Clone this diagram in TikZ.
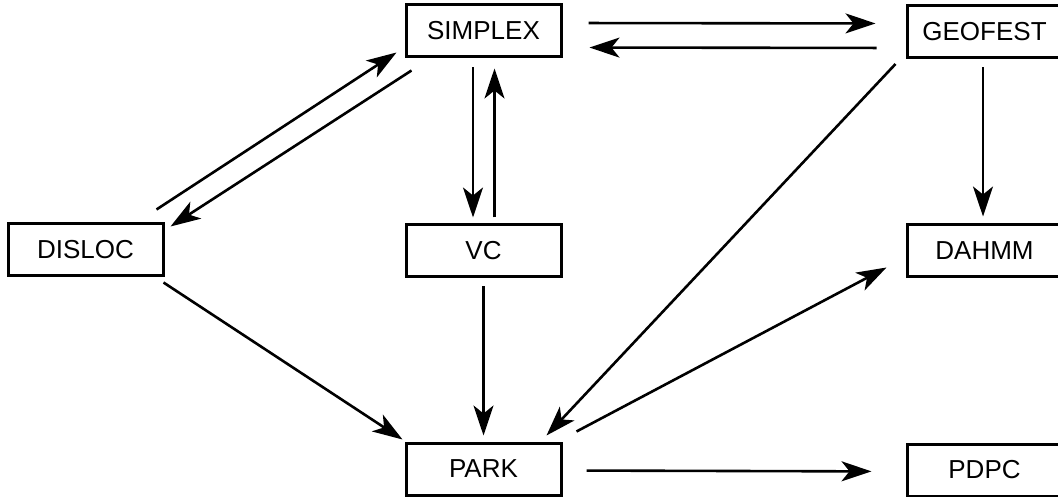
\documentclass[tikz,border=0pt]{standalone}
\usepackage{fontspec}
\setmainfont{Liberation Sans}
\usetikzlibrary{arrows.meta}
\begin{document}
\begin{tikzpicture}[x=1pt,y=-1pt,
  box/.style={draw, line width=3pt, minimum width=155pt, minimum height=52pt,
    inner sep=0pt, font=\fontsize{26pt}{30pt}\selectfont},
  conn/.style={line width=2.6pt, -{Stealth[length=30pt,width=20pt,inset=8pt]}}]
\useasboundingbox (0,0) rectangle (1058,497);
\node[box] (simplex) at (483.5,31) {SIMPLEX};
\node[box] (geofest) at (984.5,31.5) {GEOFEST};
\node[box] (disloc) at (85.5,250) {DISLOC};
\node[box] (vc) at (483.5,250.5) {VC};
\node[box] (dahmm) at (984.5,250.5) {DAHMM};
\node[box] (park) at (483.5,469) {PARK};
\node[box] (pdpc) at (984.5,470) {PDPC};
% SIMPLEX <-> GEOFEST
\draw[conn, shorten <=26pt, shorten >=30pt] ([yshift=8pt]simplex.east) -- ([yshift=8pt]geofest.west);
\draw[conn, shorten <=29pt, shorten >=27pt] ([yshift=-16.5pt]geofest.west) -- ([yshift=-16.5pt]simplex.east);
% SIMPLEX <-> VC
\draw[conn, shorten <=9pt, shorten >=5.5pt] ([xshift=-10.5pt]simplex.south) -- ([xshift=-10.5pt]vc.north);
\draw[conn, shorten <=5.5pt, shorten >=10pt] ([xshift=11pt]vc.north) -- ([xshift=11pt]simplex.south);
% DISLOC <-> SIMPLEX
\draw[conn] ([xshift=-8pt,yshift=13pt]disloc.north east) -- ([xshift=-8pt,yshift=6pt]simplex.south west);
\draw[conn] ([xshift=7pt,yshift=-12pt]simplex.south west) -- ([xshift=6pt,yshift=-4pt]disloc.north east);
% to PARK
\draw[conn] ([xshift=-1pt,yshift=-5pt]disloc.south east) -- ([xshift=-2pt,yshift=2pt]park.north west);
\draw[conn, shorten <=8.5pt, shorten >=6pt] (vc.south) -- (park.north);
\draw[conn] ([xshift=-10pt,yshift=-5pt]geofest.south west) -- ([xshift=-16pt,yshift=6pt]park.north east);
% from PARK
\draw[conn] ([xshift=14pt,yshift=10pt]park.north east) -- ([xshift=-19pt,yshift=10.5pt]dahmm.south west);
\draw[conn, shorten <=24pt, shorten >=34pt] ([yshift=-1.5pt]park.east) -- ([yshift=-1.5pt]pdpc.west);
% GEOFEST -> DAHMM
\draw[conn, shorten <=8.5pt, shorten >=6.5pt] ([xshift=-1.5pt]geofest.south) -- ([xshift=-1.5pt]dahmm.north);
\end{tikzpicture}
\end{document}
